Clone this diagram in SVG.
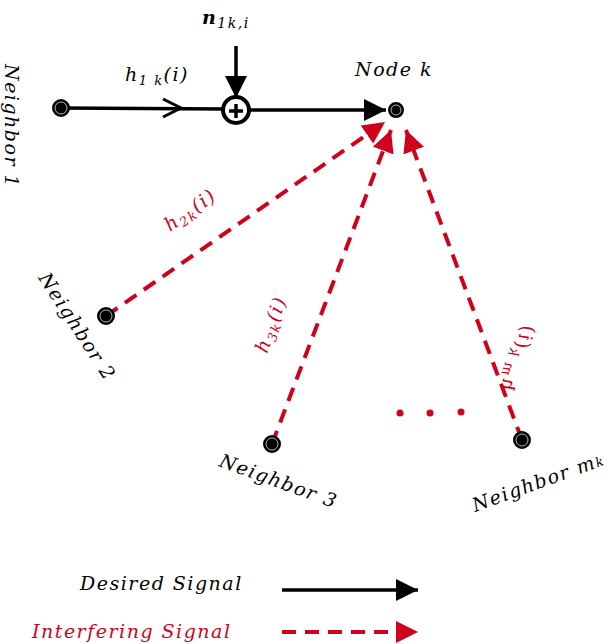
<svg xmlns="http://www.w3.org/2000/svg" width="610" height="644" viewBox="0 0 610 644">
<style>
text{font-family:"DejaVu Serif","Liberation Serif",serif;font-style:italic;font-size:19px;fill:#000;letter-spacing:1.5px}
.r{fill:#d0021b}
.b{stroke:#000;stroke-width:3.5;fill:none}
.d{stroke:#d0021b;stroke-width:4;stroke-dasharray:14,9;fill:none}
.n{fill:#000;stroke:#000;stroke-width:2}
.w{fill:none;stroke:#fff;stroke-width:0.7}
</style>
<defs>
<marker id="ar" viewBox="0 0 10 10" refX="10" refY="5" markerWidth="22" markerHeight="22" orient="auto" markerUnits="userSpaceOnUse"><path d="M0,0L10,5L0,10z" fill="#d0021b"/></marker>
<marker id="ak" viewBox="0 0 10 10" refX="10" refY="5" markerWidth="22" markerHeight="22" orient="auto" markerUnits="userSpaceOnUse"><path d="M0,0L10,5L0,10z" fill="#000"/></marker>
</defs>
<g id="connectors">
<line class="b" x1="61" y1="108" x2="224" y2="109"/>
<path d="M163,99L181,108L163,117" stroke="#000" stroke-width="3" fill="none"/>
<line class="b" x1="248" y1="110" x2="386" y2="110" marker-end="url(#ak)"/>
<line class="b" x1="236" y1="46" x2="236" y2="98" marker-end="url(#ak)"/>
<line class="d" x1="106" y1="316" x2="385" y2="122" marker-end="url(#ar)"/>
<line class="d" x1="272" y1="444" x2="391" y2="130" marker-end="url(#ar)"/>
<line class="d" x1="522" y1="440" x2="406" y2="130" marker-end="url(#ar)"/>
<line class="b" x1="282" y1="590" x2="418" y2="590" marker-end="url(#ak)"/>
<line class="d" x1="282" y1="632" x2="418" y2="632" marker-end="url(#ar)"/>
</g>
<g id="sum"><circle cx="236" cy="110" r="13" fill="#fff" stroke="#000" stroke-width="4"/><path d="M229,111H243M236,104V118" stroke="#000" stroke-width="3.5"/></g>
<g id="neighbor1"><circle class="n" cx="61" cy="108" r="8"/><circle class="w" cx="61" cy="108" r="6"/><text transform="translate(5,64) rotate(90)">Neighbor 1</text></g>
<g id="nodek"><circle class="n" cx="396" cy="110" r="7"/><circle class="w" cx="396" cy="110" r="5"/><text x="355" y="76">Node k</text></g>
<g id="neighbor2"><circle class="n" cx="106" cy="316" r="8"/><circle class="w" cx="106" cy="316" r="6"/><text transform="translate(38,278) rotate(57)">Neighbor 2</text></g>
<g id="neighbor3"><circle class="n" cx="272" cy="444" r="8"/><circle class="w" cx="272" cy="444" r="6"/><text transform="translate(218,466) rotate(20)">Neighbor 3</text></g>
<g id="neighbormk"><circle class="n" cx="522" cy="440" r="8"/><circle class="w" cx="522" cy="440" r="6"/><text transform="translate(475,512) rotate(-20)">Neighbor m<tspan font-size="13">k</tspan></text></g>
<g id="labels">
<text x="125" y="81">h<tspan font-size="13" dy="4">1 k</tspan><tspan dy="-4">(i)</tspan></text>
<text x="202" y="24" font-weight="bold" font-size="20">n<tspan font-size="14" dy="4" font-weight="normal">1k,i</tspan></text>
<text class="r" transform="translate(170,232) rotate(-35)">h<tspan font-size="13" dy="4">2k</tspan><tspan dy="-4">(i)</tspan></text>
<text class="r" transform="translate(267,354) rotate(-70)">h<tspan font-size="13" dy="4">3k</tspan><tspan dy="-4">(i)</tspan></text>
<text class="r" font-size="21" transform="translate(500,388) rotate(-70) scale(1,-1)">h<tspan font-size="14" dy="4">m k</tspan><tspan dy="-4">(i)</tspan></text>
<circle class="r" cx="400" cy="413" r="3.5"/><circle class="r" cx="430" cy="413" r="3.5"/><circle class="r" cx="461" cy="412" r="3.5"/>
<text x="80" y="590">Desired Signal</text>
<text class="r" x="32" y="638">Interfering Signal</text>
</g>
</svg>
